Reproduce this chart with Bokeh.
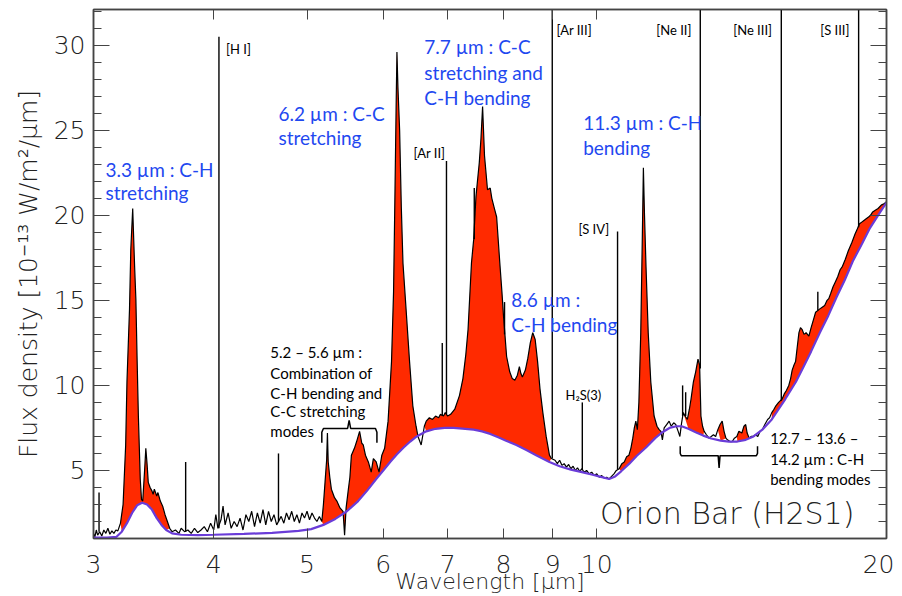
from bokeh.plotting import figure
from bokeh.models import (FixedTicker, SingleIntervalTicker, LinearAxis, LogAxis,
                          CustomJSTickFormatter, Range1d)
from bokeh.embed import file_html
from bokeh.resources import INLINE
from bokeh.core.properties import value
import numpy as np

# ---------------- data ----------------
wavelength = [
    3.00, 3.01, 3.02, 3.03, 3.045, 3.06, 3.075, 3.09, 3.105, 3.12, 3.135, 3.15, 3.165, 3.18,
    3.20, 3.22, 3.24, 3.25, 3.27, 3.28, 3.295, 3.31, 3.32, 3.33, 3.34, 3.355, 3.365, 3.375,
    3.39, 3.40, 3.41, 3.42, 3.435, 3.45, 3.46, 3.47, 3.49, 3.50, 3.52, 3.54, 3.56, 3.58,
    3.60, 3.62, 3.65, 3.68, 3.70, 3.73, 3.76, 3.79, 3.82, 3.85, 3.88, 3.91, 3.94, 3.97,
    4.00, 4.02, 4.04, 4.07, 4.09, 4.11, 4.14, 4.17, 4.20, 4.23, 4.26, 4.29, 4.32, 4.35,
    4.38, 4.41, 4.44, 4.47, 4.50, 4.53, 4.56, 4.59, 4.62, 4.65, 4.70, 4.73, 4.76, 4.79,
    4.82, 4.85, 4.88, 4.91, 4.94, 4.97, 5.00, 5.03, 5.06, 5.09, 5.12, 5.15, 5.18, 5.20,
    5.22, 5.24, 5.25, 5.26, 5.28, 5.30, 5.34, 5.37, 5.41, 5.45, 5.47, 5.49, 5.52, 5.54,
    5.56, 5.60, 5.63, 5.67, 5.70, 5.72, 5.75, 5.79, 5.83, 5.86, 5.90, 5.94, 5.98, 6.02,
    6.07, 6.12, 6.15, 6.17, 6.19, 6.20, 6.215, 6.24, 6.265, 6.29, 6.34, 6.39, 6.44, 6.49,
    6.52, 6.57, 6.62, 6.65, 6.70, 6.75, 6.80, 6.85, 6.88, 6.93, 6.96, 7.00, 7.05, 7.12,
    7.20, 7.26, 7.31, 7.35, 7.41, 7.45, 7.49, 7.55, 7.58, 7.61, 7.645, 7.70, 7.75, 7.78,
    7.82, 7.87, 7.93, 7.97, 8.00, 8.06, 8.12, 8.17, 8.22, 8.27, 8.31, 8.34, 8.37, 8.43,
    8.48, 8.53, 8.58, 8.63, 8.68, 8.73, 8.79, 8.86, 8.93, 8.97, 9.05, 9.10, 9.15, 9.20,
    9.25, 9.30, 9.35, 9.40, 9.45, 9.50, 9.55, 9.60, 9.65, 9.70, 9.76, 9.82, 9.88, 9.94,
    10.00, 10.06, 10.12, 10.18, 10.24, 10.30, 10.36, 10.42, 10.48, 10.55, 10.62, 10.68,
    10.74, 10.80, 10.85, 10.90, 10.94, 10.98, 11.02, 11.06, 11.11, 11.15, 11.18, 11.21,
    11.25, 11.31, 11.38, 11.47, 11.55, 11.61, 11.66, 11.70, 11.75, 11.82, 11.89, 11.95,
    12.02, 12.08, 12.15, 12.20, 12.25, 12.30, 12.35, 12.42, 12.48, 12.53, 12.60, 12.67,
    12.74, 12.79, 12.83, 12.88, 12.93, 13.00, 13.08, 13.15, 13.22, 13.29, 13.36, 13.43,
    13.50, 13.56, 13.62, 13.67, 13.75, 13.83, 13.90, 13.98, 14.05, 14.15, 14.22, 14.28,
    14.33, 14.40, 14.47, 14.55, 14.62, 14.70, 14.78, 14.86, 14.95, 15.05, 15.12, 15.20,
    15.28, 15.35, 15.45, 15.58, 15.66, 15.74, 15.83, 15.90, 15.96, 16.03, 16.09, 16.15,
    16.22, 16.28, 16.34, 16.42, 16.50, 16.61, 16.70, 16.80, 16.88, 17.05, 17.15, 17.25,
    17.35, 17.42, 17.50, 17.60, 17.70, 17.80, 17.90, 18.00, 18.12, 18.25, 18.41, 18.55,
    18.65, 18.75, 18.85, 18.95, 19.05, 19.16, 19.25, 19.35, 19.47, 19.60, 19.75, 19.90,
    20.00]
flux = [
    1.3, 1.1, 1.5, 1.2, 1.4, 1.15, 1.5, 1.3, 1.6, 1.25, 1.45, 1.3, 1.5, 1.45,
    1.9, 3.0, 6.5, 10.2, 14.5, 18.0, 20.4, 17.0, 15.1, 11.5, 8.2, 4.5, 3.3, 3.2,
    5.0, 6.3, 5.4, 4.3, 4.0, 3.8, 3.6, 3.9, 3.5, 3.7, 3.2, 2.9, 2.4, 2.0,
    1.6, 1.4, 1.5, 1.3, 1.6, 1.4, 1.5, 1.3, 1.6, 1.35, 1.5, 1.7, 1.4, 1.9,
    1.5, 2.4, 1.6, 2.1, 2.9, 1.8, 2.5, 1.6, 2.0, 1.7, 2.2, 1.5, 2.4, 2.0,
    2.6, 1.7, 2.5, 1.9, 2.7, 1.8, 2.6, 2.0, 2.4, 1.8, 2.3, 1.9, 2.5, 2.1,
    2.6, 2.0, 2.4, 1.9, 2.5, 2.2, 2.6, 2.1, 2.5, 2.2, 2.0, 2.3, 2.0, 3.0,
    4.3, 5.6, 7.2, 5.5, 4.6, 3.9, 3.4, 3.2, 2.8, 2.6, 1.2, 2.8, 3.9, 4.6,
    5.9, 6.3, 6.7, 7.3, 6.6, 6.5, 5.9, 5.5, 4.9, 5.7, 5.5, 4.9, 5.9, 6.3,
    7.9, 11.4, 15.5, 21.1, 27.0, 29.6, 27.5, 25.0, 20.5, 17.2, 14.3, 11.4, 8.8, 7.6,
    7.0, 6.5, 7.6, 7.9, 8.1, 8.0, 8.2, 8.1, 8.3, 8.2, 8.4, 8.2, 8.3, 8.6,
    9.4, 10.4, 11.8, 13.3, 17.2, 18.6, 21.1, 23.1, 24.5, 26.4, 23.5, 21.5, 21.6, 21.0,
    20.5, 19.9, 17.2, 15.5, 14.1, 11.7, 10.8, 10.4, 10.3, 10.6, 11.1, 10.7, 10.5, 10.9,
    11.6, 12.5, 13.1, 12.7, 11.4, 9.8, 8.4, 7.0, 5.9, 5.7, 5.6, 5.4, 5.6, 5.3,
    5.4, 5.2, 5.35, 5.1, 5.25, 5.0, 5.15, 4.95, 5.1, 4.9, 5.0, 4.8, 4.9, 4.7,
    4.8, 4.6, 4.7, 4.55, 4.6, 4.5, 4.65, 4.8, 5.0, 5.1, 5.4, 5.5,
    5.8, 5.9, 6.3, 6.9, 7.5, 7.9, 7.4, 9.0, 13.1, 18.5, 22.8, 20.0,
    17.0, 13.1, 10.2, 8.2, 7.6, 7.4, 7.3, 6.8, 7.5, 7.7, 7.9, 7.6,
    7.8, 7.7, 7.3, 7.0, 7.8, 8.4, 8.2, 8.0, 8.6, 9.2, 10.2, 10.8,
    11.55, 11.2, 8.2, 7.6, 7.3, 7.1, 6.9, 7.0, 7.1, 7.0, 7.4, 7.7,
    7.9, 7.3, 6.9, 6.8, 6.7, 6.7, 6.9, 7.0, 7.3, 7.2, 7.6, 7.7,
    7.2, 6.9, 7.0, 7.0, 7.1, 7.0, 7.3, 7.4, 7.7, 8.0, 8.1, 8.4,
    8.6, 8.8, 9.0, 9.2, 9.5, 9.7, 10.0, 10.4, 10.9, 11.2, 11.4, 12.2,
    13.1, 13.4, 13.3, 13.0, 13.1, 12.9, 13.4, 13.9, 14.3, 14.5, 14.6, 14.7,
    15.0, 15.1, 15.4, 15.8, 16.1, 16.4, 16.8, 17.0, 17.4, 17.9, 18.4, 18.9,
    19.2, 19.5, 19.6, 19.7, 19.8, 19.9, 20.0, 20.2, 20.3, 20.4, 20.6, 20.7,
    20.8]

cont_wavelength = [3.00, 3.10, 3.17, 3.21, 3.25, 3.29, 3.33, 3.37, 3.41, 3.45, 3.49, 3.53,
                   3.57, 3.62, 3.70, 3.85, 4.00, 4.30, 4.60, 4.90, 5.05, 5.20, 5.35, 5.50,
                   5.65, 5.77, 5.90, 6.00, 6.10, 6.20, 6.30, 6.40, 6.50, 6.65, 6.80, 6.95,
                   7.10, 7.30, 7.45, 7.60, 7.75, 7.90, 8.05, 8.25, 8.45, 8.65, 8.93, 9.15,
                   9.40, 9.65, 9.90, 10.10, 10.30, 10.45, 10.60, 10.81, 11.00, 11.25, 11.50,
                   11.70, 11.90, 12.10, 12.25, 12.45, 12.67, 12.90, 13.15, 13.45, 13.72,
                   14.00, 14.28, 14.55, 14.86, 15.20, 15.45, 15.70, 16.10, 16.40, 16.70,
                   17.05, 17.40, 17.75, 18.10, 18.45, 18.85, 19.20, 19.60, 20.00]
continuum = [1.05, 1.05, 1.1, 1.4, 1.9, 2.5, 2.95, 3.1, 3.0, 2.7, 2.2, 1.8,
             1.5, 1.3, 1.22, 1.2, 1.22, 1.27, 1.33, 1.45, 1.55, 1.8, 2.15, 2.6,
             3.2, 3.8, 4.5, 5.0, 5.5, 5.95, 6.35, 6.7, 7.0, 7.3, 7.45, 7.5,
             7.5, 7.45, 7.4, 7.3, 7.15, 6.95, 6.75, 6.5, 6.2, 5.9, 5.5, 5.25,
             5.05, 4.9, 4.75, 4.62, 4.5, 4.65, 4.95, 5.4, 5.85, 6.35, 6.9,
             7.25, 7.5, 7.6, 7.6, 7.45, 7.25, 7.05, 6.88, 6.75, 6.7,
             6.7, 6.8, 7.0, 7.4, 8.0, 8.6, 9.2, 10.2, 11.1, 12.0,
             13.1, 14.1, 15.2, 16.2, 17.3, 18.3, 19.2, 20.0, 20.75]

# narrow atomic / molecular emission lines
line_wavelength = [3.04, 3.74, 4.05, 4.67, 6.91, 6.98, 7.46, 8.02, 8.99, 9.66,
                   10.51, 12.28, 12.37, 12.81, 15.55, 16.97, 18.71]
line_base = [1.4, 1.4, 1.6, 2.0, 8.2, 8.3, 18.6, 13.0, 5.7, 5.05,
             5.05, 8.2, 8.2, 11.0, 9.1, 14.4, 19.3]
line_peak = [3.7, 5.5, 30.5, 6.0, 12.5, 23.2, 21.6, 14.9, 40.0, 9.0,
             19.05, 10.0, 9.6, 40.0, 40.0, 15.5, 40.0]

# PAH band ranges that are shaded red
band_start = [3.20, 5.17, 6.58, 10.55, 12.30, 13.30, 13.95, 15.20]
band_end = [3.60, 6.55, 9.00, 11.70, 12.95, 13.62, 14.45, 20.00]

x_ticks = [3, 4, 5, 6, 7, 8, 9, 10, 20]

# ---------------- styling ----------------
RED = "#ff2a00"
PURPLE = "#6a3cd8"
BLUE = "#1f48f0"
AXIS = "#444444"
FONT = "Lato"
THIN = "DejaVu Sans ExtraLight, DejaVu Sans Light, DejaVu Sans"

p = figure(width=894, height=596, x_axis_type="log",
           x_range=Range1d(3, 20), y_range=Range1d(1.0, 32.1),
           output_backend="svg", toolbar_location=None,
           min_border_left=93, min_border_right=8, min_border_top=9, min_border_bottom=57)
p.xgrid.visible = False
p.ygrid.visible = False
p.outline_line_color = AXIS
p.outline_line_width = 1.5
p.background_fill_color = "white"

# red PAH fill (band polygons between spectrum and continuum)
wl = np.array(wavelength)
fl = np.array(flux)
cw = np.array(cont_wavelength)
cv = np.array(continuum)
xs, ys = [], []
for lo, hi in zip(band_start, band_end):
    m = (wl >= lo) & (wl <= hi)
    mc = (cw >= lo) & (cw <= hi)
    xs.append(list(wl[m]) + list(cw[mc][::-1]))
    ys.append(list(fl[m]) + list(cv[mc][::-1]))
p.patches(xs=xs, ys=ys, fill_color=RED, line_color=None)

# spectrum and narrow lines
p.line(wavelength, flux, line_color="black", line_width=1.2)
p.segment(x0=line_wavelength, y0=line_base, x1=line_wavelength, y1=line_peak,
          line_color="black", line_width=1.4)
# continuum
p.line(cont_wavelength, continuum, line_color=PURPLE, line_width=2.2)

# ---------------- axes ----------------
fmt = CustomJSTickFormatter(code="return String(Math.round(tick));")
for ax in (p.xaxis[0], p.yaxis[0]):
    ax.axis_line_color = AXIS
    ax.axis_line_width = 1.5
    ax.major_tick_line_color = AXIS
    ax.minor_tick_line_color = AXIS
    ax.major_tick_out = 0
    ax.minor_tick_out = 0
    ax.major_label_text_font = THIN
    ax.major_label_text_font_size = "25px"
    ax.major_label_text_color = "#222222"
    ax.axis_label_text_font = THIN
    ax.axis_label_text_font_style = "normal"
    ax.axis_label_text_color = "#222222"

p.xaxis.ticker = FixedTicker(ticks=x_ticks, minor_ticks=[])
p.xaxis.formatter = fmt
p.xaxis.major_tick_in = 10
p.xaxis.major_label_standoff = 16
p.xaxis.axis_label = "Wavelength [µm]"
p.xaxis.axis_label_text_font_size = "22px"
p.xaxis.axis_label_standoff = -7

p.yaxis.ticker = SingleIntervalTicker(interval=5, num_minor_ticks=5)
p.yaxis.major_tick_in = 16
p.yaxis.minor_tick_in = 8
p.yaxis.major_label_standoff = 8
p.yaxis.axis_label = "Flux density [10⁻¹³ W/m²/µm]"
p.yaxis.axis_label_text_font_size = "25px"
p.yaxis.axis_label_standoff = 8

top = LogAxis(ticker=FixedTicker(ticks=x_ticks, minor_ticks=[]),
              major_label_text_font_size="0px", major_label_standoff=0,
              major_tick_in=10, major_tick_out=0, axis_line_color=AXIS,
              axis_line_width=1.5, major_tick_line_color=AXIS)
p.add_layout(top, "above")
right = LinearAxis(ticker=SingleIntervalTicker(interval=5, num_minor_ticks=5),
                   major_label_text_font_size="0px", major_label_standoff=0,
                   major_tick_in=16, major_tick_out=0, minor_tick_in=8, minor_tick_out=0,
                   axis_line_color=AXIS, axis_line_width=1.5,
                   major_tick_line_color=AXIS, minor_tick_line_color=AXIS)
p.add_layout(right, "right")

# ---------------- annotations ----------------
blue_x = [3.087, 3.087, 4.67, 4.67, 6.62, 6.62, 6.62, 9.68, 9.68, 8.15, 8.15]
blue_y = [22.7, 21.36, 26.0, 24.6, 29.93, 28.4, 26.9, 25.47, 24.0, 15.08, 13.6]
blue_t = ["3.3 µm : C-H", "stretching", "6.2 µm : C-C", "stretching",
          "7.7 µm : C-C", "stretching and", "C-H bending",
          "11.3 µm : C-H", "bending", "8.6 µm :", "C-H bending"]
p.text(x=blue_x, y=blue_y, text=blue_t, text_font=value(FONT), text_font_size="19px",
       text_color=BLUE, text_baseline="middle", text_align="left")

note_x = [4.58, 4.58, 4.58, 4.58, 4.58, 15.14, 15.14, 15.14]
note_y = [11.97, 10.74, 9.57, 8.51, 7.34, 6.93, 5.69, 4.52]
note_t = ["5.2 – 5.6 µm :", "Combination of", "C-H bending and", "C-C stretching", "modes",
          "12.7 – 13.6 –", "14.2 µm : C-H", "bending modes"]
p.text(x=note_x, y=note_y, text=note_t, text_font=value(FONT), text_font_size="15px",
       text_color="black", text_baseline="middle", text_align="left")

lab_x = [4.12, 6.45, 9.08, 9.57, 9.28, 11.53, 13.86, 17.07]
lab_y = [29.8, 23.65, 30.87, 19.19, 9.45, 30.87, 30.87, 30.87]
lab_t = ["[H I]", "[Ar II]", "[Ar III]", "[S IV]", "H₂S(3)", "[Ne II]", "[Ne III]", "[S III]"]
p.text(x=lab_x, y=lab_y, text=lab_t, text_font=value(FONT), text_font_size="13px",
       text_color="black", text_baseline="middle", text_align="left")

p.text(x=[10.08], y=[2.47], text=["Orion Bar (H2S1)"], text_font=value(THIN),
       text_font_size="30px", text_color="#222222", text_baseline="middle", text_align="left")

# curly brackets
br_x = [[5.18, 5.18, 5.20, 5.51, 5.53, 5.55, 5.89, 5.91, 5.91],
        [12.21, 12.21, 12.24, 13.37, 13.40, 13.43, 14.65, 14.69, 14.69]]
br_y = [[6.63, 7.25, 7.47, 7.47, 7.94, 7.47, 7.47, 7.25, 6.63],
        [6.42, 6.0, 5.87, 5.87, 5.15, 5.87, 5.87, 6.0, 6.42]]
p.multi_line(xs=br_x, ys=br_y, line_color="black", line_width=1.5)

open("out.html", "w").write(file_html(p, INLINE))
